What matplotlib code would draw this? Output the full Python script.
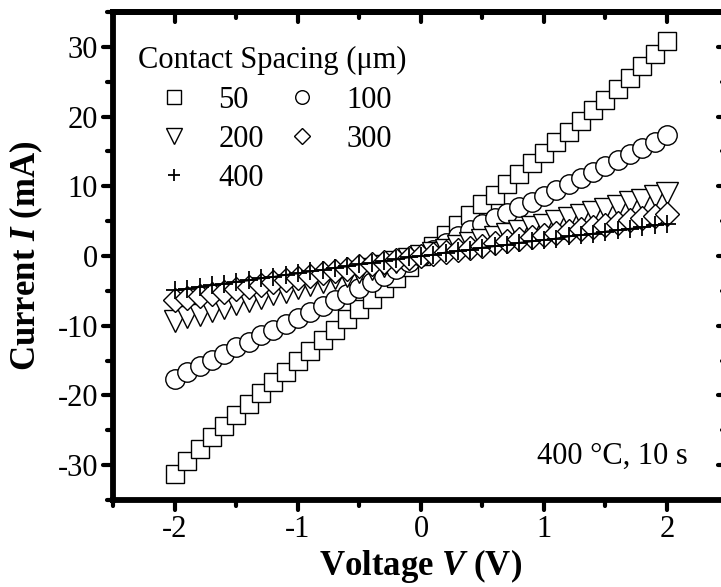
import numpy as np
import matplotlib
matplotlib.use("Agg")
import matplotlib.pyplot as plt
from matplotlib.ticker import MultipleLocator
from matplotlib.markers import MarkerStyle

# ── Data ──────────────────────────────────────────────────────────────────────
volts = [-2.0, -1.9, -1.8, -1.7, -1.6, -1.5, -1.4, -1.3, -1.2, -1.1,
         -1.0, -0.9, -0.8, -0.7, -0.6, -0.5, -0.4, -0.3, -0.2, -0.1,
         0.0, 0.1, 0.2, 0.3, 0.4, 0.5, 0.6, 0.7, 0.8, 0.9,
         1.0, 1.1, 1.2, 1.3, 1.4, 1.5, 1.6, 1.7, 1.8, 1.9, 2.0]

i_50 = [-31.2, -29.4, -27.7, -26.0, -24.4, -22.8, -21.2, -19.7, -18.1, -16.6,
        -15.1, -13.6, -12.1, -10.6, -9.1, -7.6, -6.1, -4.6, -3.1, -1.6,
        0.0, 1.5, 3.0, 4.4, 5.9, 7.4, 8.8, 10.3, 11.8, 13.3,
        14.8, 16.3, 17.8, 19.3, 20.9, 22.4, 24.0, 25.6, 27.3, 29.0, 30.8]

i_100 = [-17.6, -16.7, -15.8, -14.9, -14.0, -13.1, -12.3, -11.4, -10.6, -9.7,
         -8.9, -8.0, -7.2, -6.3, -5.5, -4.6, -3.7, -2.8, -1.9, -0.9,
         0.0, 0.9, 1.9, 2.8, 3.7, 4.6, 5.4, 6.2, 7.0, 7.8,
         8.6, 9.5, 10.3, 11.2, 12.0, 12.9, 13.7, 14.6, 15.5, 16.4, 17.3]

i_200 = [-9.3, -8.8, -8.4, -7.9, -7.4, -6.9, -6.5, -6.0, -5.5, -5.1,
         -4.6, -4.2, -3.7, -3.2, -2.8, -2.3, -1.8, -1.4, -0.9, -0.5,
         0.0, 0.5, 0.9, 1.4, 1.8, 2.3, 2.7, 3.2, 3.6, 4.1,
         4.5, 5.0, 5.4, 5.9, 6.3, 6.8, 7.2, 7.7, 8.1, 8.6, 9.0]

i_300 = [-6.3, -6.0, -5.7, -5.4, -5.1, -4.7, -4.4, -4.1, -3.8, -3.4,
         -3.1, -2.8, -2.5, -2.2, -1.9, -1.5, -1.2, -0.9, -0.6, -0.3,
         0.0, 0.3, 0.6, 0.9, 1.2, 1.5, 1.8, 2.1, 2.4, 2.7,
         3.0, 3.3, 3.6, 3.9, 4.2, 4.5, 4.8, 5.1, 5.4, 5.7, 6.0]

i_400 = [-4.9, -4.7, -4.4, -4.2, -4.0, -3.7, -3.5, -3.2, -3.0, -2.7,
         -2.5, -2.2, -2.0, -1.7, -1.5, -1.2, -1.0, -0.7, -0.5, -0.2,
         0.0, 0.2, 0.5, 0.7, 0.9, 1.2, 1.4, 1.6, 1.9, 2.1,
         2.3, 2.5, 2.8, 3.0, 3.2, 3.5, 3.7, 3.9, 4.1, 4.4, 4.6]

spacings = ["50", "100", "200", "300", "400"]

# ── Style ─────────────────────────────────────────────────────────────────────
plt.rcParams.update({
    "font.family": "Liberation Serif",
    "mathtext.fontset": "custom",
    "mathtext.rm": "Liberation Serif:bold",
    "mathtext.it": "Liberation Serif:italic:bold",
    "mathtext.bf": "Liberation Serif:bold",
    "axes.unicode_minus": False,
})

FS = 22
SPINE_W = 4.2

fig = plt.figure(figsize=(7.21, 5.87), dpi=100)
ax = fig.add_axes([0.1574, 0.1482, 0.853, 0.8314])

mk = dict(color="black", markerfacecolor="white", markeredgecolor="black",
          markeredgewidth=1.0, linestyle="none")
h50, = ax.plot(volts, i_50, marker="s", markersize=13.5, label=spacings[0], **mk)
h100, = ax.plot(volts, i_100, marker="o", markersize=14, label=spacings[1], **mk)
h200, = ax.plot(volts, i_200, marker="v", markersize=15.5, label=spacings[2], **mk)
h300, = ax.plot(volts, i_300, marker="D", markersize=12, label=spacings[3], **mk)
ax.plot(volts, i_400, color="black", lw=1.3)
h400, = ax.plot(volts, i_400, marker="+", markersize=13, label=spacings[4],
                color="black", markeredgewidth=1.3, linestyle="none")

ax.set_xlim(-2.5, 2.5)
ax.set_ylim(-35, 35)
ax.xaxis.set_major_locator(MultipleLocator(1))
ax.xaxis.set_minor_locator(MultipleLocator(0.5))
ax.yaxis.set_major_locator(MultipleLocator(10))
ax.yaxis.set_minor_locator(MultipleLocator(5))

ax.tick_params(which="both", direction="out", width=3.0, labelsize=FS,
               top=False, right=False)
ax.tick_params(which="major", length=7, pad=4)
ax.tick_params(which="minor", length=4)

for s in ax.spines.values():
    s.set_linewidth(SPINE_W)
    s.set_capstyle("projecting")

# inward ticks on top and right
top = ax.secondary_xaxis("top")
top.xaxis.set_major_locator(MultipleLocator(1))
top.xaxis.set_minor_locator(MultipleLocator(0.5))
right = ax.secondary_yaxis("right")
right.yaxis.set_major_locator(MultipleLocator(10))
right.yaxis.set_minor_locator(MultipleLocator(5))
for sec in (top, right):
    sec.tick_params(which="both", direction="in", width=3.0,
                    labeltop=False, labelright=False, labelleft=False, labelbottom=False)
    sec.tick_params(which="major", length=7)
    sec.tick_params(which="minor", length=4)
    for s in sec.spines.values():
        s.set_linewidth(SPINE_W)
        s.set_capstyle("projecting")

# round tick ends like the original
def round_ticks(axis):
    for t in axis.get_major_ticks() + axis.get_minor_ticks():
        for ln in (t.tick1line, t.tick2line):
            ln.set_marker(MarkerStyle(ln.get_marker(), capstyle="round"))

for a in (ax.xaxis, ax.yaxis, top.xaxis, right.yaxis):
    round_ticks(a)

ax.set_xlabel(r"Voltage $\mathit{V}$ (V)", fontsize=25, fontweight="bold", labelpad=2)
ax.set_ylabel(r"Current $\mathit{I}$ (mA)", fontsize=25, fontweight="bold", labelpad=9)

# legend: title as separate text, entries row-wise
ax.text(-2.297, 28.1, "Contact Spacing (μm)", fontsize=FS, ha="left", va="center")
ax.legend(handles=[h50, h200, h400, h100, h300], ncol=2, frameon=False,
          loc="upper left", bbox_to_anchor=(0.074, 0.848), borderaxespad=0,
          borderpad=0, fontsize=FS, markerscale=0.7, handlelength=1.0,
          handletextpad=0.95, columnspacing=0.75, labelspacing=0.32)

ax.text(2.167, -28.8, "400 °C, 10 s", fontsize=FS, ha="right", va="center")

fig.savefig("out.png", dpi=100)
